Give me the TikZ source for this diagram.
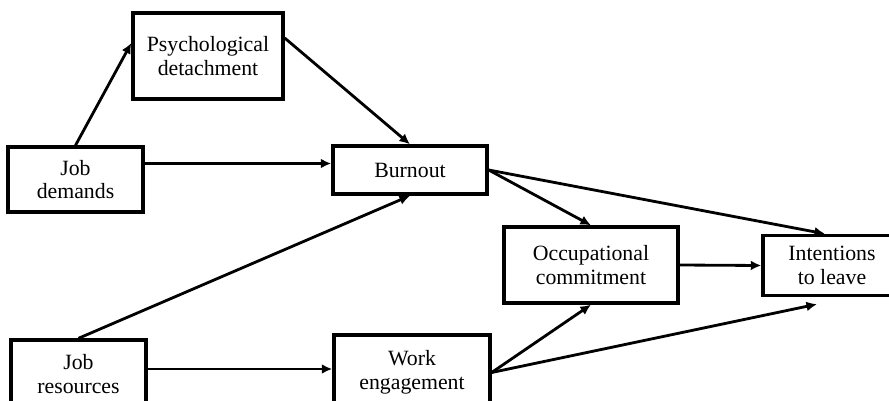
\documentclass[tikz,border=0pt]{standalone}
\usepackage{fontspec}
\setmainfont{Liberation Serif}
\usetikzlibrary{arrows.meta,calc}
\tikzset{
  box/.style={draw,line width=2.4pt,align=center,inner sep=0pt,
    font=\fontsize{15.5}{17}\selectfont},
  link/.style={line width=2pt,-{Latex[length=7.5pt,width=7pt]}}
}
\begin{document}
\begin{tikzpicture}[x=0.025cm,y=-0.025cm]
\clip(0,0)rectangle(889,401);
\node[box,minimum width=150*0.025cm,minimum height=86*0.025cm](pd)at(208,56){Psychological\\detachment};
\node[box,minimum width=135*0.025cm,minimum height=65*0.025cm](jd)at(75.5,179.5){Job\\demands};
\node[box,minimum width=154*0.025cm,minimum height=48*0.025cm](bo)at(410,170){Burnout};
\node[box,minimum width=135*0.025cm,minimum height=68*0.025cm](jr)at(78.5,374){Job\\resources};
\node[box,minimum width=156*0.025cm,minimum height=75*0.025cm](we)at(412,372.5){Work\\engagement};
\node[box,minimum width=174*0.025cm,minimum height=76*0.025cm](oc)at(591,265){Occupational\\commitment};
\node[box,minimum width=138*0.025cm,minimum height=60*0.025cm](il)at(832,265.5){Intentions\\to leave};
\coordinate(ilin)at($(il.south)+(-15,7)$);
\draw[link](jd.north)--($(pd.west)+(0,-13)$);
\draw[link]($(pd.east)+(0,-18)$)--(bo.north);
\draw[link]($(jd.east)+(0,-16)$)--($(bo.west)+(0,-6.5)$);
\draw[link](jr.north)--(bo.south);
\draw[link]($(jr.east)+(0,-5)$)--($(we.west)+(0,-3.5)$);
\draw[link](bo.east)--(oc.north);
\draw[link](bo.east)--($(il.north)+(-7,0)$);
\draw[link](oc.east)--(il.west);
\draw[link](we.east)--(oc.south);
\draw[link](we.east)--(ilin);
\end{tikzpicture}
\end{document}
